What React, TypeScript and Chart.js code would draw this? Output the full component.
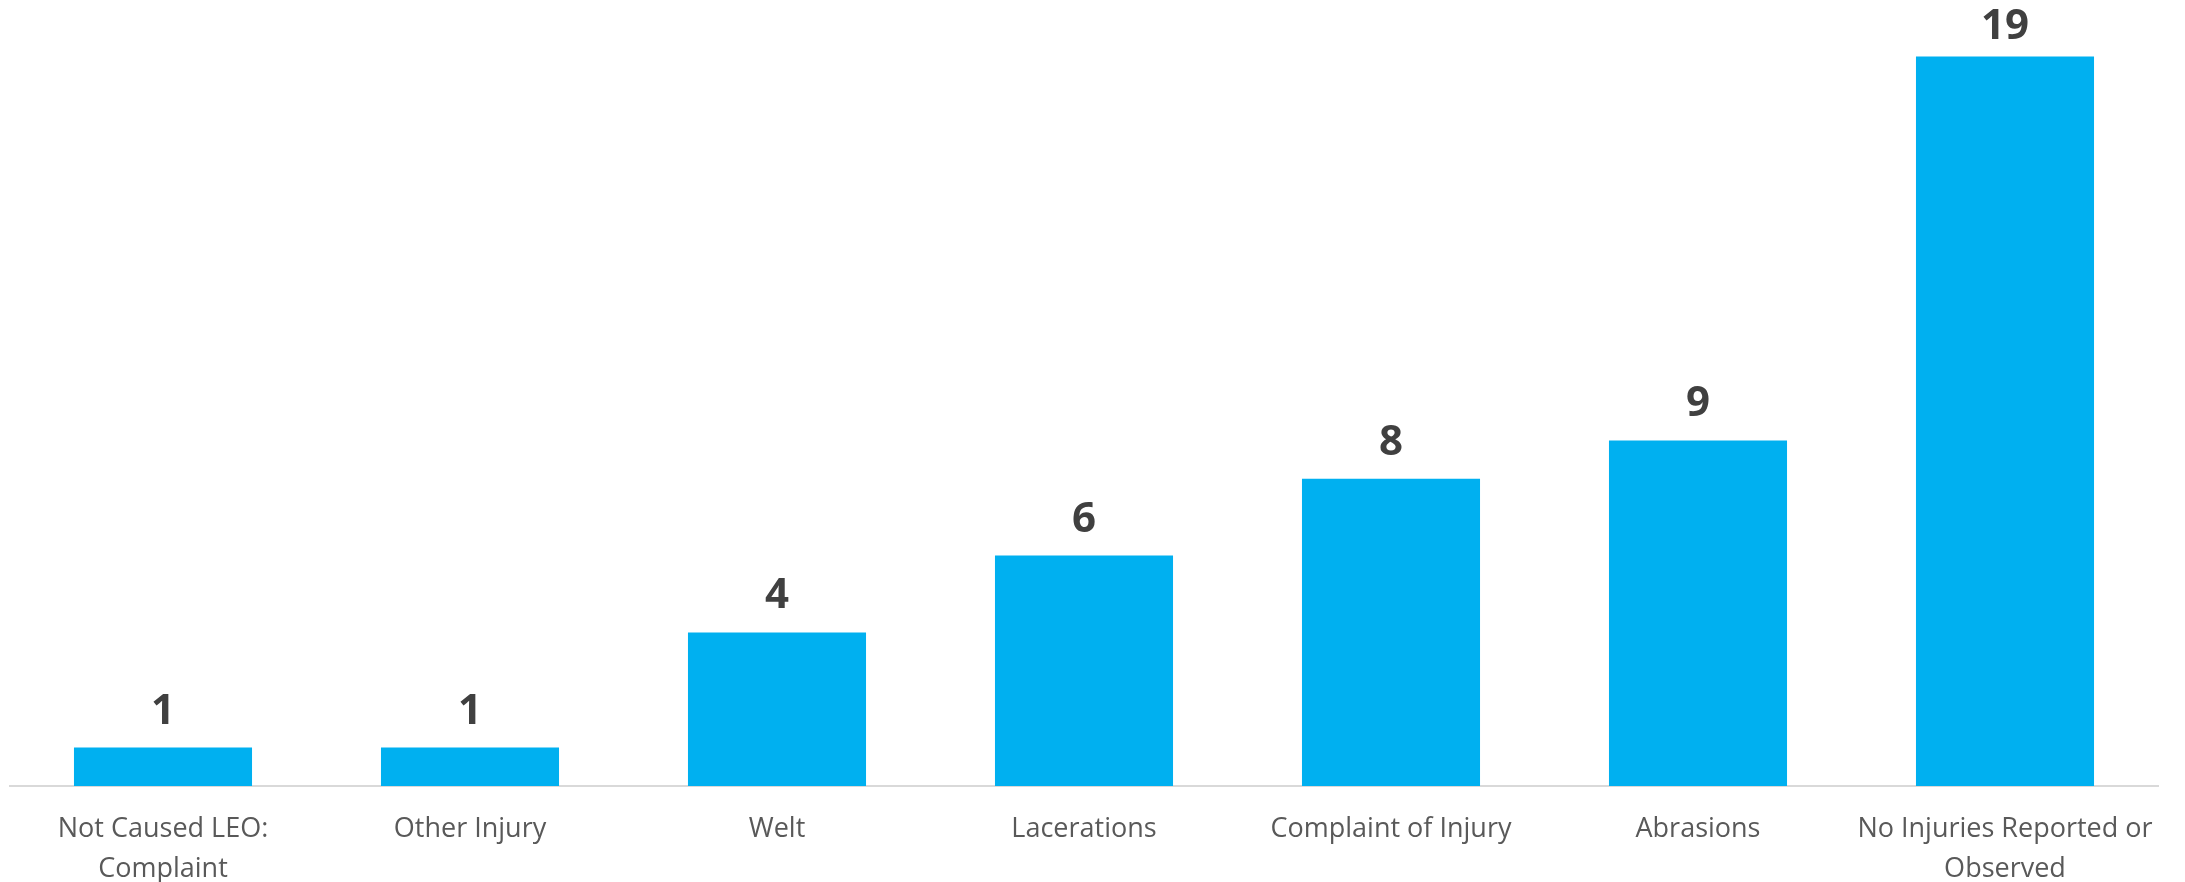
import React, { useEffect, useRef } from "react";
import { Chart, registerables } from "chart.js";

Chart.register(...registerables);

const categories: string[][] = [
  ["Not Caused LEO:", "Complaint"],
  ["Other Injury"],
  ["Welt"],
  ["Lacerations"],
  ["Complaint of Injury"],
  ["Abrasions"],
  ["No Injuries Reported or", "Observed"],
];
const values: number[] = [1, 1, 4, 6, 8, 9, 19];

const BAR_COLOR = "#00B0F0";
const VALUE_COLOR = "#404040";
const LABEL_COLOR = "#595959";
const AXIS_COLOR = "#D9D9D9";

const valueLabels = {
  id: "valueLabels",
  afterDatasetsDraw(chart: any) {
    const ctx = chart.ctx;
    const meta = chart.getDatasetMeta(0);
    ctx.save();
    ctx.font = "bold 42px 'Open Sans'";
    ctx.fillStyle = VALUE_COLOR;
    ctx.textAlign = "center";
    ctx.textBaseline = "alphabetic";
    meta.data.forEach((bar: any, i: number) => {
      const y = Math.max(bar.y - 24, 39);
      ctx.fillText(String(values[i]), bar.x, y);
    });
    ctx.restore();
  },
};

export default function App() {
  const ref = useRef<HTMLCanvasElement | null>(null);
  useEffect(() => {
    document.body.style.margin = "0";
    const canvas = ref.current!;
    const chart = new Chart(canvas, {
      type: "bar",
      data: {
        labels: categories,
        datasets: [
          {
            data: values,
            backgroundColor: BAR_COLOR,
            borderWidth: 0,
            barPercentage: 0.58,
            categoryPercentage: 1,
          },
        ],
      },
      options: {
        animation: false,
        responsive: false,
        devicePixelRatio: 1,
        layout: { padding: { left: 9.5, right: 26.5, top: 18, bottom: 0 } },
        plugins: {
          legend: { display: false },
          tooltip: { enabled: false },
        },
        scales: {
          x: {
            grid: { display: false, drawTicks: false },
            border: { display: true, color: AXIS_COLOR, width: 2 },
            ticks: {
              color: LABEL_COLOR,
              padding: 23,
              maxRotation: 0,
              autoSkip: false,
              font: { family: "'Open Sans'", size: 27, lineHeight: 40 / 27 },
            },
            afterFit: (scale: any) => {
              scale.height = 96;
            },
          },
          y: {
            display: false,
            min: 0,
            max: 20,
          },
        },
      },
      plugins: [valueLabels],
    });
    return () => chart.destroy();
  }, []);
  return (
    <canvas
      ref={ref}
      width={2185}
      height={882}
      style={{ display: "block", width: 2185, height: 882 }}
    />
  );
}
